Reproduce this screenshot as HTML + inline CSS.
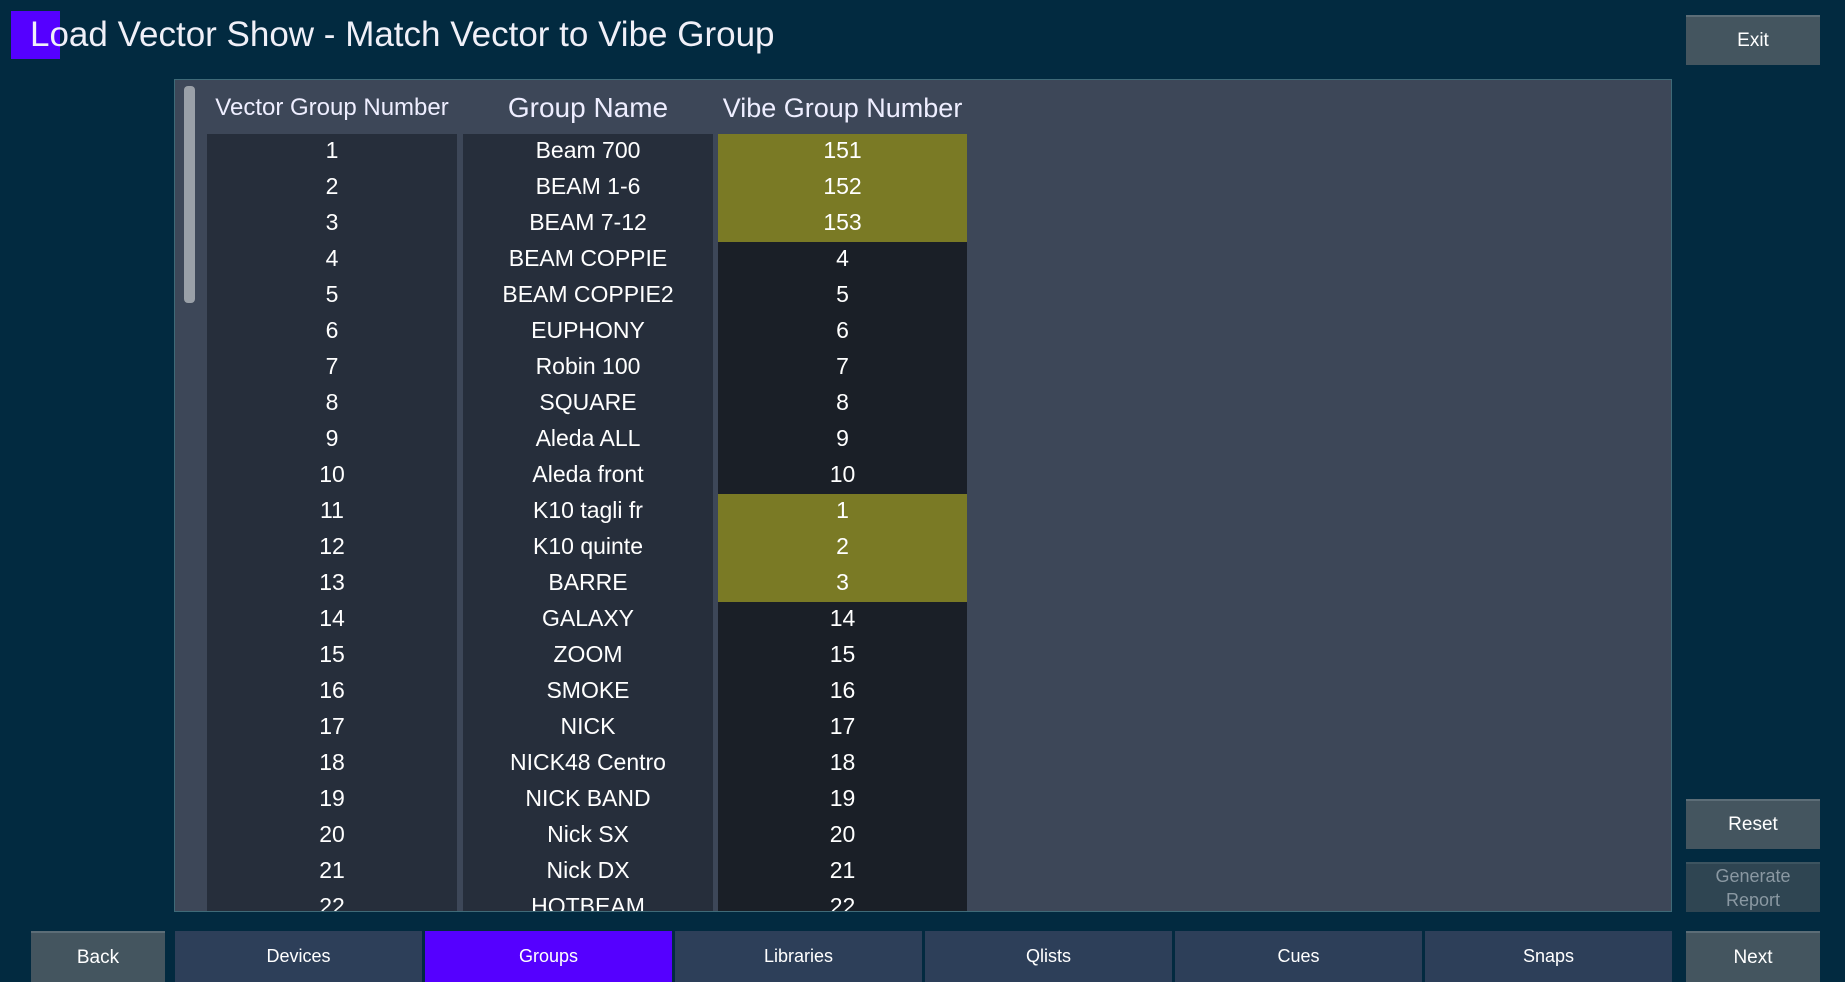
<!DOCTYPE html>
<html><head><meta charset="utf-8"><style>
*{margin:0;padding:0;box-sizing:border-box}
body{width:1845px;height:982px;background:#022a40;font-family:"Liberation Sans",sans-serif;color:#fff;position:relative;overflow:hidden}
.abs{position:absolute}
.btn{position:absolute;background:#44555f;border-top:2px solid #5c6d77;color:#fff;font-size:19px;display:flex;align-items:center;justify-content:center;text-align:center}
.tab{position:absolute;top:931px;height:51px;width:247px;background:#2d3f59;color:#fff;font-size:18px;display:flex;align-items:center;justify-content:center}
.cell{position:absolute;height:36px;display:flex;align-items:center;justify-content:center;font-size:23px;white-space:nowrap}
.hdr{position:absolute;top:8px;height:40px;display:flex;align-items:center;justify-content:center;color:#eef;white-space:nowrap}
</style></head><body>
<div class="abs" style="left:11px;top:11px;width:49px;height:48px;background:#5500ff"></div>
<div class="abs" style="left:30px;top:15px;font-size:35px;color:#f0f0f8">Load Vector Show - Match Vector to Vibe Group</div>
<div class="btn" style="left:1686px;top:15px;width:134px;height:50px">Exit</div>
<div class="abs" style="left:174px;top:79px;width:1498px;height:833px;border:1px solid #3f6a78;background:#3d4758;overflow:hidden">
 <div class="abs" style="left:9px;top:6px;width:11px;height:217px;background:#9aa0a8;border-radius:4px"></div>
 <div id="tbl" class="abs" style="left:0;top:0;width:1496px;height:831px;overflow:hidden"></div>
</div>
<div class="btn" style="left:1686px;top:799px;width:134px;height:50px">Reset</div>
<div class="btn" style="left:1686px;top:862px;width:134px;height:50px;color:#8a98a2;background:#2f4552;border-top-color:#3d5460;line-height:24px;font-size:18px">Generate<br>Report</div>
<div class="btn" style="left:31px;top:931px;width:134px;height:51px">Back</div>
<div class="btn" style="left:1686px;top:931px;width:134px;height:51px">Next</div>
<div class="tab" style="left:175px">Devices</div>
<div class="tab" style="left:425px;background:#5500ff">Groups</div>
<div class="tab" style="left:675px">Libraries</div>
<div class="tab" style="left:925px">Qlists</div>
<div class="tab" style="left:1175px">Cues</div>
<div class="tab" style="left:1425px">Snaps</div>
<script>
const names=["Beam 700","BEAM 1-6","BEAM 7-12","BEAM COPPIE","BEAM COPPIE2","EUPHONY","Robin 100","SQUARE","Aleda ALL","Aleda front","K10 tagli fr","K10 quinte","BARRE","GALAXY","ZOOM","SMOKE","NICK","NICK48 Centro","NICK BAND","Nick SX","Nick DX","HOTBEAM"];
const vibe=[151,152,153,4,5,6,7,8,9,10,1,2,3,14,15,16,17,18,19,20,21,22];
const matched=[1,1,1,0,0,0,0,0,0,0,1,1,1,0,0,0,0,0,0,0,0,0];
const t=document.getElementById('tbl');
const cols=[[32,250],[288,250],[543,249]];
const heads=["Vector Group Number","Group Name","Vibe Group Number"];
const hsize=[24,28,27];
heads.forEach((h,i)=>{const d=document.createElement('div');d.className='hdr';


d.style.left=cols[i][0]+'px';d.style.width=cols[i][1]+'px';d.style.fontSize=hsize[i]+'px';d.textContent=h;t.appendChild(d);});
const top0=54,rh=36;
cols.forEach((c,i)=>{const bg=document.createElement('div');bg.className='abs';


bg.style.cssText=`left:${c[0]}px;top:${top0}px;width:${c[1]}px;height:800px;background:${i==2?'#1a1f27':'#262e3b'}`;t.appendChild(bg);});
names.forEach((n,r)=>{
 const vals=[r+1,n,vibe[r]];
 vals.forEach((v,i)=>{const d=document.createElement('div');d.className='cell';
 
 
 d.style.left=cols[i][0]+'px';d.style.width=cols[i][1]+'px';d.style.top=(top0+r*rh)+'px';
 if(i==2&&matched[r])d.style.background='#7a7a25';
 d.style.paddingBottom='3px';
 d.textContent=v;t.appendChild(d);});
});
</script>
</body></html>
